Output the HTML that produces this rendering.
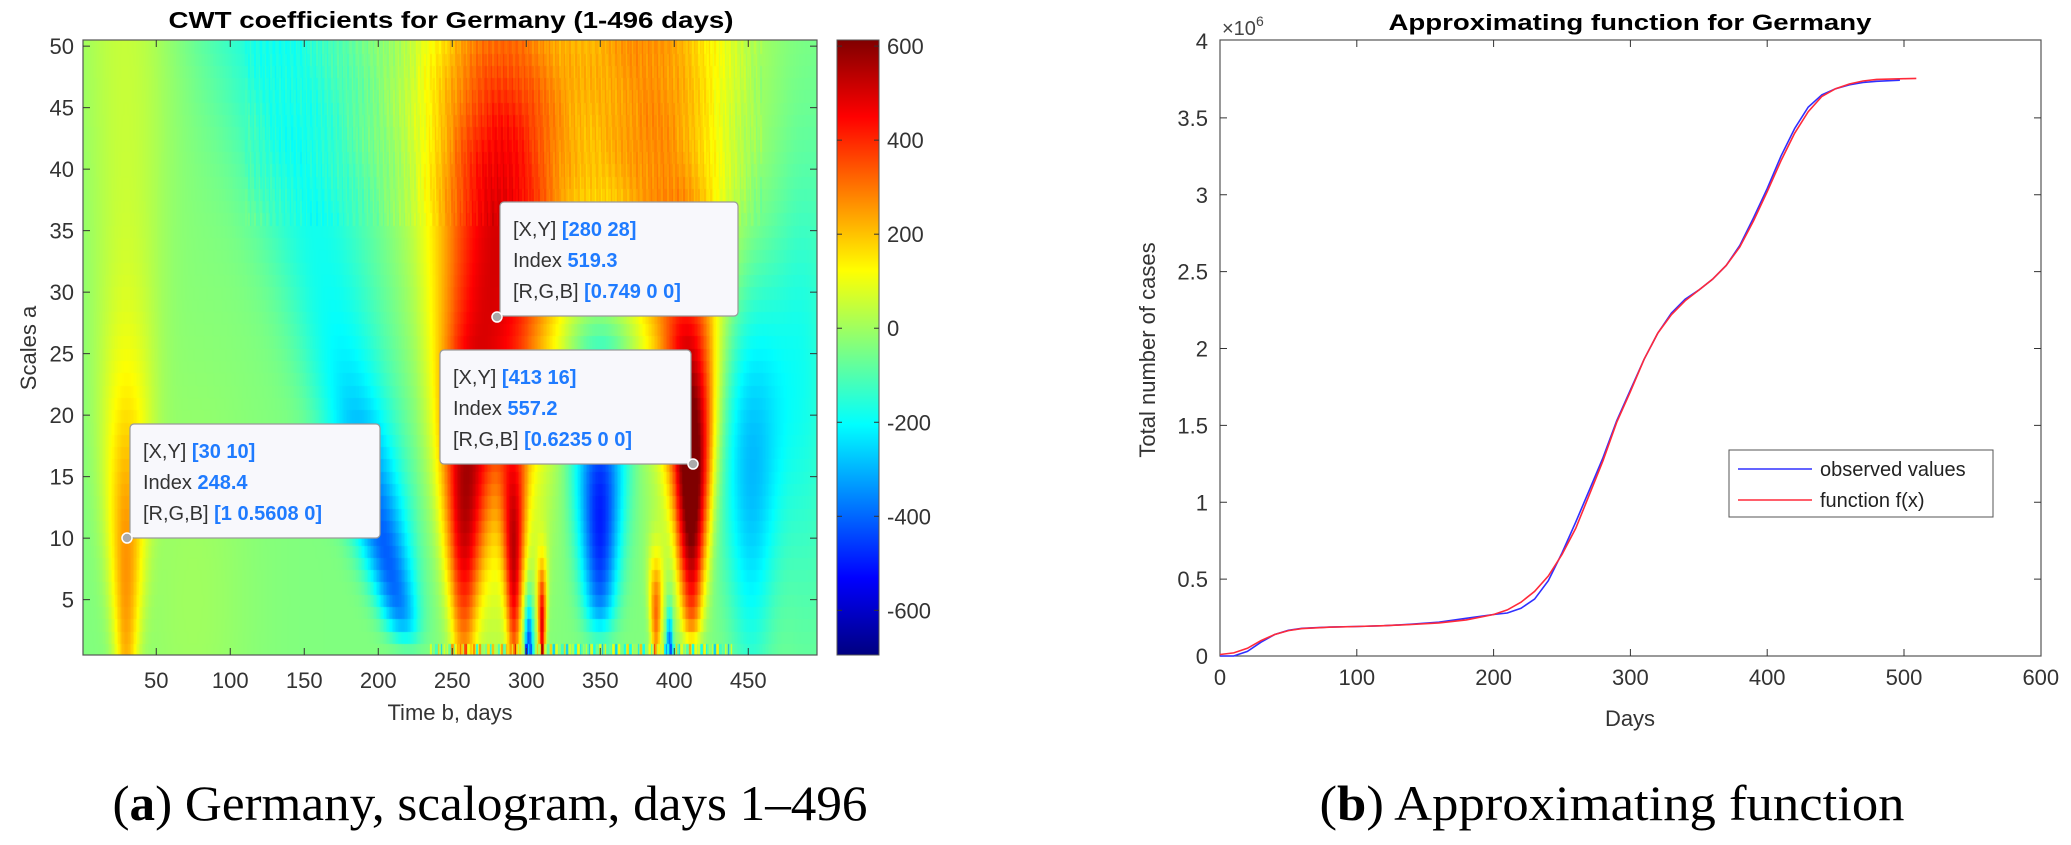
<!DOCTYPE html>
<html><head><meta charset="utf-8">
<style>
html,body{margin:0;padding:0;background:#fff;}
#wrap{position:relative;width:2071px;height:845px;overflow:hidden;background:#fff;}
#hm{position:absolute;left:83px;top:40px;width:734px;height:615px;}
svg{position:absolute;left:0;top:0;}
text{font-family:"Liberation Sans",Arial,sans-serif;}
.cap{font-family:"Liberation Serif","DejaVu Serif",serif;}
</style></head><body>
<div id="wrap">
<canvas id="hm" width="734" height="615"></canvas>
<svg width="2071" height="845" viewBox="0 0 2071 845">
<defs>
<linearGradient id="jet" x1="0" y1="1" x2="0" y2="0">
<stop offset="0" stop-color="#000080"/>
<stop offset="0.125" stop-color="#0000ff"/>
<stop offset="0.375" stop-color="#00ffff"/>
<stop offset="0.625" stop-color="#ffff00"/>
<stop offset="0.875" stop-color="#ff0000"/>
<stop offset="1" stop-color="#800000"/>
</linearGradient>
</defs>
<text x="451" y="28" font-size="23" font-weight="bold" text-anchor="middle" textLength="565" lengthAdjust="spacingAndGlyphs" fill="#000">CWT coefficients for Germany (1-496 days)</text>
<rect x="83" y="40" width="734" height="615" fill="none" stroke="#555" stroke-width="1.2"/>
<g id="lticks" stroke="#333" stroke-width="1"></g>
<g id="llabels" font-size="22" fill="#333"></g>
<text x="450" y="720" font-size="22" text-anchor="middle" fill="#333">Time b, days</text>
<text transform="translate(36,348) rotate(-90)" font-size="22" text-anchor="middle" fill="#333">Scales a</text>
<rect x="837" y="40" width="42" height="615" fill="url(#jet)" stroke="#555" stroke-width="1"/>
<g id="cb" font-size="22" fill="#333"></g>
<g font-size="20">
<rect x="130" y="424" width="250" height="114" rx="4" fill="#f8f8fc" stroke="#9a9a9a" stroke-width="1.2"/>
<text x="143" y="458" fill="#333">[X,Y] <tspan fill="#1f7bff" font-weight="bold">[30 10]</tspan></text>
<text x="143" y="489" fill="#333">Index <tspan fill="#1f7bff" font-weight="bold">248.4</tspan></text>
<text x="143" y="520" fill="#333">[R,G,B] <tspan fill="#1f7bff" font-weight="bold">[1 0.5608 0]</tspan></text>
<circle cx="127" cy="538" r="5" fill="#aaa" stroke="#fff" stroke-width="1.5"/>
<rect x="500" y="202" width="238" height="114" rx="4" fill="#f8f8fc" stroke="#9a9a9a" stroke-width="1.2"/>
<text x="513" y="236" fill="#333">[X,Y] <tspan fill="#1f7bff" font-weight="bold">[280 28]</tspan></text>
<text x="513" y="267" fill="#333">Index <tspan fill="#1f7bff" font-weight="bold">519.3</tspan></text>
<text x="513" y="298" fill="#333">[R,G,B] <tspan fill="#1f7bff" font-weight="bold">[0.749 0 0]</tspan></text>
<circle cx="497" cy="317" r="5" fill="#aaa" stroke="#fff" stroke-width="1.5"/>
<rect x="440" y="350" width="251" height="114" rx="4" fill="#f8f8fc" stroke="#9a9a9a" stroke-width="1.2"/>
<text x="453" y="384" fill="#333">[X,Y] <tspan fill="#1f7bff" font-weight="bold">[413 16]</tspan></text>
<text x="453" y="415" fill="#333">Index <tspan fill="#1f7bff" font-weight="bold">557.2</tspan></text>
<text x="453" y="446" fill="#333">[R,G,B] <tspan fill="#1f7bff" font-weight="bold">[0.6235 0 0]</tspan></text>
<circle cx="693" cy="464" r="5" fill="#aaa" stroke="#fff" stroke-width="1.5"/>
</g>
<text class="cap" x="490" y="820" font-size="50" text-anchor="middle" textLength="755" lengthAdjust="spacingAndGlyphs" fill="#000">(<tspan font-weight="bold">a</tspan>) Germany, scalogram, days 1–496</text>

<text x="1630" y="30" font-size="22" font-weight="bold" text-anchor="middle" textLength="483" lengthAdjust="spacingAndGlyphs" fill="#000">Approximating function for Germany</text>
<text x="1222" y="35" font-size="20" fill="#444">×10<tspan font-size="14" dy="-9">6</tspan></text>
<rect x="1220" y="40" width="821" height="616" fill="none" stroke="#555" stroke-width="1.2"/>
<g id="rticks" stroke="#333" stroke-width="1"></g>
<g id="rlabels" font-size="22" fill="#333"></g>
<text x="1630" y="726" font-size="22" text-anchor="middle" fill="#333">Days</text>
<text transform="translate(1155,350) rotate(-90)" font-size="22" text-anchor="middle" fill="#333">Total number of cases</text>
<polyline id="blue" fill="none" stroke="#3030ff" stroke-width="1.6"/>
<polyline id="red" fill="none" stroke="#ff2a3a" stroke-width="1.6"/>
<rect x="1729" y="450" width="264" height="67" fill="#fff" stroke="#555" stroke-width="1"/>
<line x1="1738" y1="469" x2="1812" y2="469" stroke="#3030ff" stroke-width="1.6"/>
<line x1="1738" y1="500" x2="1812" y2="500" stroke="#ff2a3a" stroke-width="1.6"/>
<text x="1820" y="476" font-size="20" fill="#222">observed values</text>
<text x="1820" y="507" font-size="20" fill="#222">function f(x)</text>
<text class="cap" x="1612" y="820" font-size="50" text-anchor="middle" textLength="585" lengthAdjust="spacingAndGlyphs" fill="#000">(<tspan font-weight="bold">b</tspan>) Approximating function</text>
</svg>
</div>
<script>
(function(){
var NS="http://www.w3.org/2000/svg";
function el(p,tag,attrs,txt){var e=document.createElementNS(NS,tag);for(var k in attrs)e.setAttribute(k,attrs[k]);if(txt!==undefined)e.textContent=txt;p.appendChild(e);return e;}
var lt=document.getElementById('lticks'),ll=document.getElementById('llabels');
function lx(d){return 83+(d-0.5)*1.48;}
function ly(a){return 655-(a-0.5)*12.3;}
for(var d=50;d<=450;d+=50){var x=lx(d);
 el(lt,'line',{x1:x,y1:655,x2:x,y2:648});el(lt,'line',{x1:x,y1:40,x2:x,y2:47});
 el(ll,'text',{x:x,y:688,'text-anchor':'middle'},String(d));}
for(var a=5;a<=50;a+=5){var y=ly(a);
 el(lt,'line',{x1:83,y1:y,x2:90,y2:y});el(lt,'line',{x1:817,y1:y,x2:810,y2:y});
 el(ll,'text',{x:74,y:y+8,'text-anchor':'end'},String(a));}
var cb=document.getElementById('cb');
for(var v=-600;v<=600;v+=200){var y=40+(613-v)/1308*615;
 el(cb,'line',{x1:837,y1:y,x2:842,y2:y,stroke:'#333'});el(cb,'line',{x1:879,y1:y,x2:874,y2:y,stroke:'#333'});
 el(cb,'text',{x:887,y:y+8},String(v));}
var rt=document.getElementById('rticks'),rl=document.getElementById('rlabels');
function rx(d){return 1220+d*1.368;}
function ry(v){return 656-v*153.75;}
for(var d=0;d<=600;d+=100){var x=rx(d);
 if(d>0&&d<600){el(rt,'line',{x1:x,y1:656,x2:x,y2:649});el(rt,'line',{x1:x,y1:40,x2:x,y2:47});}
 el(rl,'text',{x:x,y:685,'text-anchor':'middle'},String(d));}
for(var i=0;i<=8;i++){var v=i*0.5,y=ry(v);
 if(i>0&&i<8){el(rt,'line',{x1:1220,y1:y,x2:1227,y2:y});el(rt,'line',{x1:2041,y1:y,x2:2034,y2:y});}
 el(rl,'text',{x:1208,y:y+8,'text-anchor':'end'},String(v));}
var R=[[0,0.01],[10,0.02],[20,0.05],[30,0.10],[40,0.14],[50,0.165],[60,0.178],[80,0.187],[100,0.192],[120,0.197],[140,0.205],[160,0.215],[180,0.235],[200,0.27],[210,0.30],[220,0.35],[230,0.42],[240,0.52],[250,0.66],[260,0.83],[270,1.05],[280,1.27],[290,1.52],[300,1.72],[310,1.93],[320,2.1],[330,2.22],[340,2.31],[350,2.38],[360,2.45],[370,2.54],[380,2.66],[390,2.83],[400,3.02],[410,3.22],[420,3.40],[430,3.54],[440,3.64],[450,3.69],[460,3.72],[470,3.74],[480,3.75],[500,3.755],[509,3.757]];
var B=[[0,0.0],[10,0.0],[20,0.03],[30,0.09],[40,0.14],[50,0.167],[60,0.18],[80,0.188],[100,0.192],[120,0.197],[140,0.207],[160,0.22],[180,0.245],[200,0.27],[210,0.28],[220,0.31],[230,0.37],[240,0.49],[250,0.67],[260,0.87],[270,1.08],[280,1.29],[290,1.53],[300,1.73],[310,1.93],[320,2.1],[330,2.23],[340,2.32],[350,2.38],[360,2.45],[370,2.54],[380,2.67],[390,2.85],[400,3.04],[410,3.25],[420,3.43],[430,3.57],[440,3.65],[450,3.69],[460,3.715],[470,3.73],[480,3.738],[497,3.745]];
function pts(A){return A.map(function(p){return rx(p[0]).toFixed(1)+','+ry(p[1]).toFixed(1);}).join(' ');}
document.getElementById('blue').setAttribute('points',pts(B));
document.getElementById('red').setAttribute('points',pts(R));
function G(x,s){return Math.exp(-x*x/(s*s));}
function field(t,a){
 var v=-40;
 v+=40*G(t-75,40)*G(a-5,20);
 v+=(90+200*G(a-8,15))*G(t-30,8+0.5*a);
 var c=222-1.8*a,w=10+0.8*a;
 v+=-(140+230*G(a-9,12))*(1-G(a,2.5))*G(t-c,w);
 v+=520*G(a-35,24)*G(t-282,22+0.6*a);
 v+=480*G(a-12,14)*G(t-258,8+0.5*a);
 v+=440*G(a-8,10)*G(t-292,4+0.3*a);
 v+=500*G(a-3,5)*G(t-311,2+0.2*a);
 v+=-450*G(a-1,4)*G(t-302,3);
 v+=300/(1+Math.exp(-(a-30)/4))*G(t-385,55);
 v+=-(460*G(a-12,13))*(1-G(a,3))*G(t-350,9+0.5*a);
 v+=680*G(a-14,13)*G(t-412,6+0.45*a)*(1-G(a,2));
 v+=200*G(a-25,12)*G(t-405,18+0.3*a);
 v+=350*G(a-4,5)*G(t-388,3+0.3*a);
 v+=-400*G(a-1,3)*G(t-397,2);
 v+=-(250*G(a-16,16))*G(t-452,14+0.5*a);
 v+=-120*G(t-490,22)*G(a-22,20);
 if(a>35&&t>110&&t<460){v+=35*Math.sin(t*2.3+a*0.7)*Math.sin(t*0.9);}
 if(a<1.5&&t>235&&t<440){v+=250*Math.sin(t*1.7)*Math.sin(t*0.37);}
 return Math.max(-695,Math.min(613,v));
}
function jet(x){function cl(u){return Math.max(0,Math.min(1,u));}
 return [cl(1.5-Math.abs(4*x-3)),cl(1.5-Math.abs(4*x-2)),cl(1.5-Math.abs(4*x-1))];}
var cv=document.getElementById('hm'),ctx=cv.getContext('2d');
for(var d=1;d<=496;d++){
 var x0=(d-1)*1.48;
 for(var a=1;a<=50;a++){
  var y0=(50-a)*12.3;
  var val=field(d,a),tt=(val+695)/1308,c=jet(tt);
  ctx.fillStyle='rgb('+Math.round(c[0]*255)+','+Math.round(c[1]*255)+','+Math.round(c[2]*255)+')';
  ctx.fillRect(Math.floor(x0),Math.floor(y0),3,14);
 }
}
})();
</script>
</body></html>
